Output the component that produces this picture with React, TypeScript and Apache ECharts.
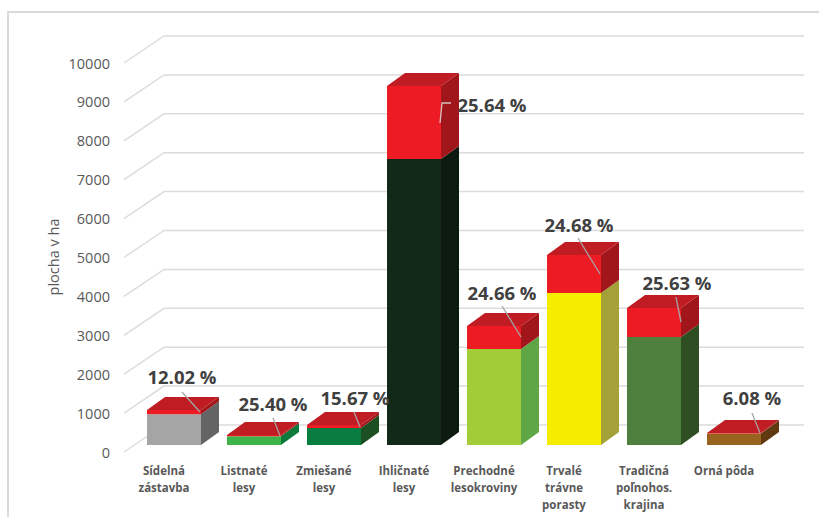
import React, { useEffect, useRef } from "react";
import * as echarts from "echarts";

const categories = [
  "Sídelná\nzástavba",
  "Listnaté\nlesy",
  "Zmiešané\nlesy",
  "Ihličnaté\nlesy",
  "Prechodné\nlesokroviny",
  "Trvalé\ntrávne\nporasty",
  "Tradičná\npoľnohos.\nkrajina",
  "Orná pôda",
];
const baseValues = [792, 228, 434, 7352, 2468, 3907, 2776, 295];
const redValues = [108, 32, 80, 1877, 591, 977, 745, 15];
const percentLabels = ["12.02 %", "25.40 %", "15.67 %", "25.64 %", "24.66 %", "24.68 %", "25.63 %", "6.08 %"];
const yTicks = [0, 1000, 2000, 3000, 4000, 5000, 6000, 7000, 8000, 9000, 10000];

// appearance
const frontColors = ["#a5a5a5", "#3cb44a", "#087d3f", "#12291a", "#a2cd39", "#f5ec00", "#4e7f3c", "#98631f"];
const sideColors = ["#646464", "#0b7a3b", "#1c4f22", "#0c1a10", "#5ea646", "#a3a137", "#2f4f22", "#5f3a10"];
const redFront = "#ed1c24";
const redTop = "#c01c24";
const redSide = "#a0161b";
const labelOffsets = [[-19, -33], [-8, -31], [-6, -28], [51, 19], [-19, -34], [-22, -31], [-4, -26], [-9, -35]];
const leaderOffsets = [
  [[-19, -18], [-1, 2]],
  [[-8, -17], [-1, 1]],
  [[-7, -13], [-1, 2]],
  [[10, 17], [1, 17], [-1, 37]],
  [[-19, -20], [0, 11]],
  [[-23, -17], [-1, 19]],
  [[-5, -11], [0, 14]],
  [[-9, -20], [-1, 0]],
];

const DEPTH_X = 18;
const DEPTH_Y = -13;
const BAR_W = 54;
const BAR_SHIFT_X = 10;
const BAR_SHIFT_Y = -7;
const WALL_X = 40;
const WALL_Y = -27;

const poly = (pts: number[][], fill: string) => ({
  type: "polygon",
  shape: { points: pts },
  style: { fill },
});

function renderGrid(params: any, api: any) {
  const v = api.value(0);
  const cs = params.coordSys;
  const y = api.coord([0, v])[1];
  const x0 = cs.x;
  const x1 = cs.x + cs.width;
  return {
    type: "polyline",
    silent: true,
    shape: { points: [[x0, y], [x0 + WALL_X, y + WALL_Y], [x1 + WALL_X, y + WALL_Y]] },
    style: { fill: "none", stroke: "#dcdcdc", lineWidth: 1.5 },
  };
}

function renderBar(params: any, api: any) {
  const i = api.value(0);
  const base = api.value(1);
  const red = api.value(2);
  const [cx, y0raw] = api.coord([i, 0]);
  const l = cx + BAR_SHIFT_X - BAR_W / 2;
  const r = l + BAR_W;
  const y0 = y0raw + BAR_SHIFT_Y;
  const yB = api.coord([i, base])[1] + BAR_SHIFT_Y;
  const yT = api.coord([i, base + red])[1] + BAR_SHIFT_Y;
  const bx = DEPTH_X;
  const by = DEPTH_Y;
  const children: any[] = [
    poly([[l, y0], [r, y0], [r, yB], [l, yB]], frontColors[i]),
    poly([[r, y0], [r + bx, y0 + by], [r + bx, yB + by], [r, yB]], sideColors[i]),
    poly([[l, yB], [r, yB], [r, yT], [l, yT]], redFront),
    poly([[r, yB], [r + bx, yB + by], [r + bx, yT + by], [r, yT]], redSide),
    poly([[l, yT], [r, yT], [r + bx, yT + by], [l + bx, yT + by]], redTop),
  ];
  return { type: "group", children };
}

function renderLabel(params: any, api: any) {
  const i = api.value(0);
  const total = api.value(1) + api.value(2);
  const [cx] = api.coord([i, 0]);
  const cy = api.coord([i, total])[1] + BAR_SHIFT_Y;
  const r = cx + BAR_SHIFT_X + BAR_W / 2;
  return {
    type: "group",
    children: [
      {
        type: "polyline",
        shape: { points: leaderOffsets[i].map(([dx, dy]) => [r + dx, cy + dy]) },
        style: { fill: "none", stroke: i === 3 ? "#d4c4c4" : "#a6a6a6", lineWidth: 1.3 },
      },
      {
        type: "text",
        x: r + labelOffsets[i][0],
        y: cy + labelOffsets[i][1],
        style: {
          text: percentLabels[i],
          fill: "#404040",
          font: "bold 18.5px 'Open Sans'",
          align: "center",
          verticalAlign: "middle",
        },
      },
    ],
  };
}

export default function App() {
  const ref = useRef<HTMLDivElement>(null);
  useEffect(() => {
    const chart = echarts.init(ref.current!, null, { renderer: "svg" });
    const barData = categories.map((_, i) => [i, baseValues[i], redValues[i]]);
    chart.setOption({
      animation: false,
      backgroundColor: "#ffffff",
      grid: { left: 124, top: 63, width: 640, height: 389, containLabel: false },
      xAxis: {
        type: "category",
        data: categories,
        axisLine: { show: false },
        axisTick: { show: false },
        splitLine: { show: false },
        axisLabel: {
          interval: 0,
          margin: 10,
          color: "#595959",
          fontFamily: "Open Sans",
          fontWeight: "bold",
          fontSize: 11.5,
          lineHeight: 17,
        },
      },
      yAxis: {
        type: "value",
        min: 0,
        max: 10000,
        interval: 1000,
        axisLine: { show: false },
        axisTick: { show: false },
        splitLine: { show: false },
        axisLabel: {
          margin: 14,
          color: "#595959",
          fontFamily: "Open Sans",
          fontSize: 14.5,
          formatter: (v: number) => String(v),
        },
      },
      graphic: [
        {
          type: "rect",
          silent: true,
          shape: { x: 8, y: 12, width: 830, height: 530 },
          style: { fill: "none", stroke: "#d9d9d9", lineWidth: 2 },
        },
        {
          type: "text",
          x: 53,
          y: 257,
          rotation: Math.PI / 2,
          style: {
            text: "plocha v ha",
            fill: "#595959",
            font: "14.5px 'Open Sans'",
            align: "center",
            verticalAlign: "middle",
          },
        },
      ],
      series: [
        { type: "custom", z: 1, renderItem: renderGrid, data: yTicks.map((v) => [v]), encode: { y: 0 }, silent: true },
        { type: "custom", z: 2, renderItem: renderBar, data: barData, encode: { x: 0, y: 1 }, silent: true },
        { type: "custom", z: 3, renderItem: renderLabel, data: barData, encode: { x: 0, y: 1 }, silent: true },
      ],
    });
    return () => chart.dispose();
  }, []);
  return <div ref={ref} style={{ position: "absolute", left: 0, top: 0, width: 819, height: 517 }} />;
}
